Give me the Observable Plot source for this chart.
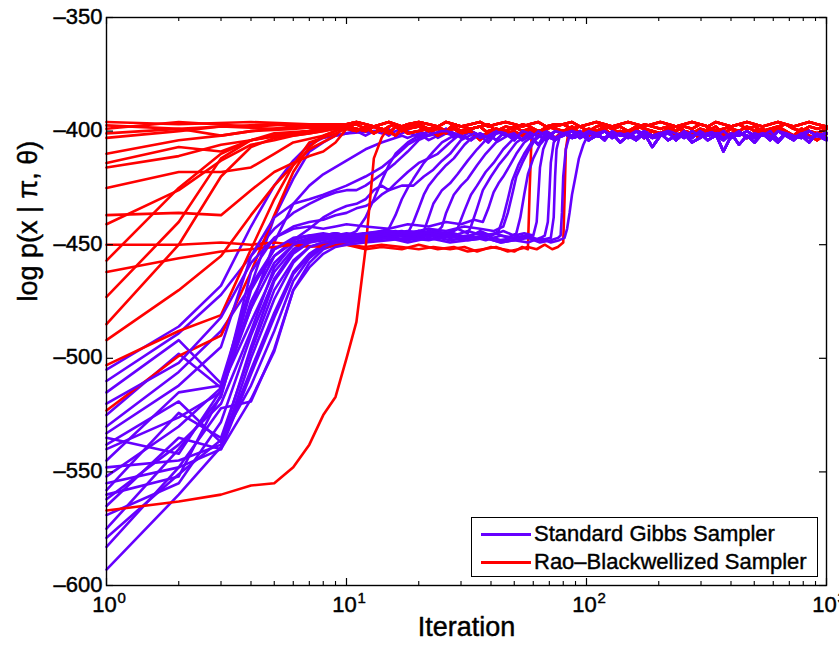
<!DOCTYPE html>
<html><head><meta charset="utf-8">
<script src="https://cdn.jsdelivr.net/npm/d3@7"></script>
<script src="https://cdn.jsdelivr.net/npm/@observablehq/plot@0.6"></script>
<style>
body{margin:0;background:#fff;}
#wrap{position:relative;width:839px;height:650px;font-family:"Liberation Sans",Arial,Helvetica,sans-serif;}
#legend{position:absolute;left:471px;top:517px;width:345px;height:58px;border:1.4px solid #000;background:#fff;}
.row{position:absolute;left:0;height:26px;width:100%;}
.sw{position:absolute;left:9px;width:50px;height:2.6px;top:12px;}
.lt{position:absolute;left:62px;top:0;font-size:22px;line-height:26px;color:#000;white-space:nowrap;-webkit-text-stroke:0.4px #000;}
</style></head>
<body>
<div id="wrap">
<div id="chart"></div>
<div id="legend">
  <div class="row" style="top:3px"><div class="sw" style="background:#6600ff"></div><div class="lt">Standard Gibbs Sampler</div></div>
  <div class="row" style="top:31px"><div class="sw" style="background:#ff0000"></div><div class="lt">Rao–Blackwellized Sampler</div></div>
</div>
</div>
<script>
const seriesNames = ["Standard Gibbs Sampler", "Rao–Blackwellized Sampler"];
const seriesColors = ["#6600ff", "#ff0000"];
const xMajor = [1, 10, 100, 1000];
const xMinor = [2,3,4,5,6,7,8,9,20,30,40,50,60,70,80,90,200,300,400,500,600,700,800,900];
const yTicks = [-600, -550, -500, -450, -400, -350];
const xTickExp = ["0", "1", "2", "3"];

// Standard Gibbs runs: [iteration, log p]
const gibbsRuns = [
 [[1,-505],[2,-486],[3,-468],[4,-442],[5,-424],[6,-413],[7,-406],[8,-403],[10,-401],[13,-400]],
 [[1,-525],[2,-498],[3,-513],[4,-468],[5,-438],[6,-421],[7,-409],[8,-405],[9,-402]],
 [[1,-545],[2,-515],[3,-512],[4,-478],[5,-449],[6,-432],[7,-424],[8,-419],[10,-413],[12,-408],[14,-405],[17,-402]],
 [[1,-510],[2,-489],[3,-472],[4,-455],[5,-443],[6,-436],[7,-432],[8,-429],[9,-427],[10,-426],[11,-426],[12,-424],[14,-419],[16,-414],[18,-409],[20,-404],[23,-401]],
 [[1,-530],[2,-506],[3,-488],[4,-468],[5,-455],[6,-448],[7,-443],[8,-438],[9,-435],[10,-433],[11,-432],[12,-430],[13,-426],[14,-424],[15,-426],[16,-423],[18,-418],[20,-414],[22,-412],[24,-410],[27,-405],[30,-401]],
 [[1,-515],[2,-492],[3,-511],[4,-468],[5,-452],[6,-448],[7,-446],[8,-446],[9,-445],[10,-446],[11,-444],[12,-438],[13,-430],[14,-422],[15,-415],[16,-410],[18,-405],[20,-402]],
 [[1,-535],[2,-542],[3,-514],[4,-478],[5,-458],[6,-450],[7,-448],[8,-447],[9,-447],[10,-446],[11,-446],[12,-445],[13,-445],[14,-444],[15,-443],[16,-437],[17,-430],[18,-425],[19,-421],[21,-414],[23,-409],[25,-405],[28,-402]],
 [[1,-538],[2,-519],[3,-537],[4,-495],[5,-466],[6,-454],[7,-449],[8,-448],[9,-447],[10,-447],[11,-446],[12,-447],[14,-446],[16,-445],[18,-445],[19,-440],[20,-434],[21,-428],[22,-424],[24,-419],[26,-415],[28,-412],[31,-406],[34,-402]],
 [[1,-548],[2,-545],[3,-538],[4,-505],[5,-480],[6,-462],[7,-454],[8,-450],[9,-448],[10,-448],[12,-447],[14,-446],[16,-447],[18,-445],[20,-446],[21,-444],[22,-438],[23,-432],[25,-426],[27,-423],[29,-419],[32,-413],[35,-408],[38,-404],[42,-401]],
 [[1,-552],[2,-530],[3,-513],[4,-484],[5,-462],[6,-452],[7,-448],[8,-447],[9,-446],[10,-447],[12,-446],[14,-445],[16,-444],[18,-446],[20,-444],[22,-445],[24,-444],[25,-442],[26,-436],[28,-428],[30,-424],[32,-421],[35,-415],[38,-410],[42,-405],[47,-402]],
 [[1,-555],[2,-548],[3,-540],[4,-518],[5,-497],[6,-470],[7,-458],[8,-452],[9,-450],[10,-449],[12,-448],[14,-447],[16,-446],[19,-447],[22,-445],[25,-446],[28,-444],[29,-443],[31,-435],[33,-428],[35,-424],[38,-418],[41,-414],[45,-408],[49,-404],[55,-401]],
 [[1,-558],[2,-524],[3,-535],[4,-497],[5,-470],[6,-457],[7,-451],[8,-449],[9,-448],[10,-447],[12,-446],[14,-445],[17,-444],[20,-446],[23,-444],[26,-445],[29,-443],[32,-445],[33,-442],[35,-434],[37,-426],[40,-420],[43,-415],[47,-410],[51,-405],[56,-402]],
 [[1,-560],[2,-552],[3,-516],[4,-475],[5,-455],[6,-449],[7,-447],[8,-446],[9,-445],[10,-446],[12,-445],[14,-444],[17,-446],[20,-444],[24,-446],[28,-445],[32,-447],[36,-444],[40,-446],[43,-444],[45,-438],[47,-430],[49,-422],[52,-415],[55,-410],[59,-405],[64,-401]],
 [[1,-565],[2,-535],[3,-540],[4,-507],[5,-482],[6,-463],[7,-455],[8,-451],[9,-449],[10,-448],[12,-447],[14,-446],[17,-445],[20,-447],[24,-445],[28,-446],[32,-444],[37,-446],[42,-445],[47,-447],[51,-445],[53,-438],[55,-428],[57,-419],[60,-412],[64,-406],[69,-402]],
 [[1,-569],[2,-555],[3,-528],[4,-490],[5,-465],[6,-453],[7,-449],[8,-447],[9,-446],[10,-447],[12,-446],[15,-445],[18,-446],[22,-444],[26,-445],[30,-447],[35,-445],[40,-446],[45,-444],[50,-446],[55,-445],[60,-446],[62,-440],[63,-428],[64,-416],[66,-408],[69,-403]],
 [[1,-575],[2,-540],[3,-517],[4,-470],[5,-452],[6,-447],[7,-446],[8,-445],[9,-446],[10,-445],[12,-446],[15,-445],[18,-444],[22,-445],[27,-447],[32,-446],[38,-448],[44,-446],[50,-447],[56,-446],[62,-448],[67,-446],[69,-440],[70,-428],[71,-414],[73,-405],[77,-401]],
 [[1,-579],[2,-551],[3,-536],[4,-512],[5,-488],[6,-466],[7,-456],[8,-451],[9,-449],[10,-448],[12,-448],[15,-447],[18,-448],[22,-446],[27,-448],[32,-447],[38,-446],[44,-448],[50,-447],[57,-446],[64,-448],[71,-447],[73,-438],[74,-420],[75,-408],[77,-403]],
 [[1,-583],[2,-548],[3,-522],[4,-519],[5,-496],[6,-470],[7,-460],[8,-454],[9,-451],[10,-450],[12,-449],[15,-448],[18,-447],[22,-448],[27,-446],[32,-448],[38,-447],[44,-449],[50,-448],[57,-447],[64,-449],[71,-448],[76,-447],[78,-446],[79,-436],[80,-420],[82,-408],[85,-402]],
 [[1,-593],[2,-560],[3,-539],[4,-500],[5,-474],[6,-458],[7,-451],[8,-449],[9,-448],[10,-449],[12,-448],[15,-447],[18,-449],[22,-447],[27,-449],[32,-448],[38,-447],[44,-449],[50,-448],[57,-449],[64,-447],[71,-449],[77,-448],[81,-447],[83,-443],[85,-436],[87,-428],[90,-420],[93,-412],[97,-406],[101,-402]],
 [[1,-520],[2,-502],[3,-482],[4,-458],[5,-447],[6,-442],[7,-440],[8,-439],[9,-437],[10,-436],[11,-434],[12,-433],[13,-431],[14,-428],[15,-426],[17,-424],[19,-424],[21,-420],[23,-417],[25,-413],[27,-410],[30,-404],[34,-401]],
 [[1,-540],[2,-526],[3,-515],[4,-462],[5,-447],[6,-443],[7,-442],[8,-443],[9,-442],[10,-441],[12,-442],[15,-443],[18,-441],[22,-442],[26,-440],[30,-441],[34,-439],[37,-440],[39,-434],[41,-427],[43,-423],[45,-420],[48,-415],[51,-410],[55,-405],[60,-402]],
 [[1,-562],[2,-538],[3,-520],[4,-488],[5,-460],[6,-450],[7,-447],[8,-446],[9,-445],[10,-446],[12,-445],[15,-444],[18,-445],[22,-443],[26,-444],[31,-442],[36,-443],[41,-444],[45,-442],[47,-436],[49,-428],[51,-420],[54,-414],[57,-409],[61,-404],[66,-401]],
 [[1,-533],[2,-512],[3,-495],[4,-455],[5,-438],[6,-432],[7,-430],[8,-428],[10,-424],[12,-420],[14,-416],[16,-411],[18,-406],[21,-402],[25,-400]]
];

// Rao-Blackwellized runs: [iteration, log p]
const raoRuns = [
 [[1,-396],[2,-397],[4,-396],[7,-397],[9,-397]],
 [[1,-397.5],[2,-399],[3,-398],[5,-397],[8,-398]],
 [[1,-399],[2,-396],[4,-398],[6,-397],[9,-398]],
 [[1,-401],[2,-399],[3,-402],[4,-400],[6,-398],[8,-399]],
 [[1,-403],[2,-400],[3,-398],[5,-399],[7,-398]],
 [[1,-410],[2,-404],[3,-402],[4,-400],[6,-399],[8,-398]],
 [[1,-414],[2,-407],[3,-409],[4,-404],[5,-402],[7,-400],[9,-399]],
 [[1,-416],[2,-411],[3,-406],[4,-404],[6,-401],[8,-399]],
 [[1,-425],[2,-418],[3,-418],[4,-416],[5,-410],[6,-405],[8,-402],[9,-400]],
 [[1,-437],[2,-436],[3,-437],[4,-426],[5,-418],[6,-414],[7,-411],[8,-409],[9,-405]],
 [[1,-441],[2,-426],[3,-413],[4,-406],[5,-404],[6,-402],[8,-400]],
 [[1,-450],[2,-450],[3,-449],[4,-450],[5,-449],[6,-450],[7,-451],[8,-450],[10,-450],[12,-451],[14,-450],[17,-451],[20,-452],[23,-451],[27,-452],[31,-451],[35,-453],[40,-451],[45,-452],[50,-453],[54,-451],[57,-452],[58,-425],[59,-403],[61,-400]],
 [[1,-457],[2,-425],[3,-410],[4,-404],[5,-402],[7,-400]],
 [[1,-462],[2,-456],[3,-453],[4,-452],[5,-451],[6,-450],[8,-451],[10,-450],[12,-452],[14,-451],[17,-452],[20,-450],[24,-452],[28,-451],[32,-453],[37,-452],[42,-451],[47,-453],[52,-452],[57,-451],[62,-452],[67,-450],[72,-452],[76,-451],[80,-449],[81,-430],[82,-408],[84,-401]],
 [[1,-473],[2,-440],[3,-412],[4,-404],[5,-401],[7,-400]],
 [[1,-485],[2,-450],[3,-420],[4,-407],[5,-403],[7,-401]],
 [[1,-492],[2,-470],[3,-455],[4,-437],[5,-424],[6,-415],[7,-408],[9,-402]],
 [[1,-503],[2,-488],[3,-481],[4,-452],[5,-430],[6,-415],[7,-405],[9,-401]],
 [[1,-523],[2,-499],[3,-490],[4,-462],[5,-437],[6,-418],[7,-407],[8,-402]],
 [[1,-567],[2,-563],[3,-560],[4,-556],[5,-555],[6,-548],[7,-538],[8,-525],[9,-517],[10,-500],[11,-484],[12,-452],[13,-412],[14,-403]]
];

// Converged (noisy) stretch shared iteration grid
const tailIters = [10,11,12,13,14,15,16,17,18,20,22,24,26,28,30,33,36,39,42,46,50,54,58,63,68,74,80,87,94,102,
 110,119,128,138,149,161,174,188,203,219,236,255,275,297,320,345,372,401,432,466,502,541,583,628,677,729,786,847,913,1000];

const gibbsTails = [
 [-400,-401,-399,-401,-400,-402,-400,-399,-401,-400,
  -402,-401,-399,-401,-403,-400,-402,-401,-404,-400,
  -402,-401,-403,-400,-402,-404,-401,-400,-403,-401,
  -402,-400,-403,-401,-402,-404,-401,-407,-402,-401,
  -403,-400,-402,-401,-404,-402,-400,-403,-401,-402,
  -405,-401,-403,-400,-402,-404,-401,-403,-402,-404],
 [-401,-400,-402,-400,-401,-399,-402,-401,-400,-403,
  -400,-402,-399,-403,-401,-400,-402,-405,-401,-400,
  -403,-401,-400,-402,-404,-400,-401,-403,-402,-400,
  -401,-404,-400,-402,-401,-403,-400,-402,-401,-400,
  -404,-401,-403,-400,-402,-401,-409,-402,-400,-403,
  -401,-402,-400,-404,-401,-402,-403,-400,-402,-401],
 [-399,-400,-401,-400,-402,-401,-400,-402,-403,-401,
  -404,-402,-400,-401,-402,-404,-401,-403,-400,-402,
  -401,-404,-402,-406,-401,-403,-402,-400,-401,-404,
  -402,-403,-401,-405,-402,-400,-403,-402,-401,-404,
  -402,-401,-405,-403,-401,-402,-404,-401,-406,-402,
  -403,-401,-402,-405,-401,-403,-402,-405,-401,-403],
 [-401,-399,-400,-402,-401,-400,-401,-403,-400,-401,
  -400,-403,-401,-402,-400,-401,-403,-402,-400,-401,
  -404,-400,-401,-402,-400,-403,-401,-402,-400,-404,
  -401,-400,-402,-401,-403,-400,-401,-403,-402,-400,
  -401,-403,-400,-402,-401,-400,-403,-401,-402,-400,
  -402,-401,-404,-400,-401,-403,-401,-400,-402,-401]
];

const raoTails = [
 [-397,-396,-397,-398,-397,-396,-397,-398,-397,-396,
  -397,-398,-396,-397,-398,-397,-396,-398,-397,-396,
  -397,-398,-397,-396,-398,-397,-397,-396,-398,-397,
  -396,-397,-398,-397,-396,-397,-398,-397,-396,-397,
  -398,-397,-396,-397,-398,-396,-397,-398,-397,-396,
  -397,-398,-397,-396,-397,-398,-397,-396,-397,-398],
 [-399,-400,-398,-401,-399,-400,-402,-399,-401,-400,
  -399,-402,-400,-399,-401,-400,-404,-400,-399,-401,
  -400,-402,-399,-401,-400,-403,-400,-399,-401,-402,
  -400,-399,-402,-400,-401,-399,-403,-400,-401,-399,
  -402,-400,-401,-403,-399,-400,-402,-401,-400,-403,
  -401,-400,-402,-399,-401,-403,-400,-402,-404,-401],
 [-398,-399,-400,-398,-399,-401,-398,-400,-399,-398,
  -400,-399,-401,-398,-400,-399,-398,-401,-399,-400,
  -398,-400,-399,-401,-398,-399,-400,-398,-401,-399,
  -400,-398,-399,-401,-400,-398,-399,-400,-402,-399,
  -398,-400,-401,-399,-400,-398,-401,-399,-400,-398,
  -400,-399,-401,-398,-400,-402,-399,-400,-401,-399],
 [-398,-397,-399,-398,-400,-398,-397,-399,-398,-397,
  -399,-398,-400,-397,-398,-399,-398,-397,-400,-398,
  -399,-397,-398,-400,-399,-398,-397,-399,-398,-400,
  -398,-397,-399,-398,-400,-399,-397,-398,-399,-398,
  -400,-398,-399,-397,-398,-400,-399,-398,-397,-399,
  -398,-400,-399,-398,-397,-399,-400,-398,-399,-398]
];

function build(runs, tails, sampler, prefix) {
  return runs.map((run, i) => {
    const tail = tails[i % tails.length];
    const last = run[run.length - 1][0];
    const pts = run.map(([it, v]) => ({it, v}));
    tailIters.forEach((it, j) => { if (it > last) pts.push({it, v: tail[j]}); });
    return pts.map(p => ({...p, run: prefix + i, sampler}));
  });
}
const gRows = build(gibbsRuns, gibbsTails, seriesNames[0], "g");
const rRows = build(raoRuns, raoTails, seriesNames[1], "r");
const lineData = [];
for (let i = 0; i < Math.max(gRows.length, rRows.length); i++) {
  if (gRows[i]) lineData.push(...gRows[i]);
  if (rRows[i]) lineData.push(...rRows[i]);
}

const W = 839, H = 650, mL = 106, mR = 13, mT = 17, mB = 65;
const fw = W - mL - mR, fh = H - mT - mB;
const txt = {fill: "#000", stroke: "#000", strokeWidth: 0.45};

const chart = Plot.plot({
  width: W, height: H,
  marginLeft: mL, marginRight: mR, marginTop: mT, marginBottom: mB,
  style: {fontFamily: '"Liberation Sans", Arial, Helvetica, sans-serif', fontSize: "22px", color: "#000", background: "#fff", overflow: "visible"},
  x: {type: "log", domain: [1, 1000], axis: null},
  y: {domain: [-600, -350], axis: null},
  color: {domain: seriesNames, range: seriesColors},
  marks: [
    Plot.line(lineData, {x: "it", y: "v", z: "run", stroke: "sampler", strokeWidth: 2.6, strokeLinejoin: "round", strokeLinecap: "round"}),
    Plot.tickX(xMajor, {x: d => d, insetTop: fh - 7, stroke: "#000", strokeWidth: 1.2}),
    Plot.tickX(xMajor, {x: d => d, insetBottom: fh - 7, stroke: "#000", strokeWidth: 1.2}),
    Plot.tickX(xMinor, {x: d => d, insetTop: fh - 4, stroke: "#000", strokeWidth: 1.1}),
    Plot.tickX(xMinor, {x: d => d, insetBottom: fh - 4, stroke: "#000", strokeWidth: 1.1}),
    Plot.tickY(yTicks, {y: d => d, insetRight: fw - 7, stroke: "#000", strokeWidth: 1.2}),
    Plot.tickY(yTicks, {y: d => d, insetLeft: fw - 7, stroke: "#000", strokeWidth: 1.2}),
    Plot.frame({stroke: "#000", strokeWidth: 1.4}),
    Plot.text(yTicks, {x: 1, y: d => d, text: d => "–" + Math.abs(d), textAnchor: "end", dx: -4, dy: -1, fontSize: 22, ...txt}),
    Plot.text(xMajor, {x: d => d, frameAnchor: "bottom", text: () => "10", dx: -2, dy: 26, fontSize: 22, ...txt}),
    Plot.text(xMajor, {x: d => d, frameAnchor: "bottom", text: (d, i) => xTickExp[i], textAnchor: "start", dx: 11, dy: 17, fontSize: 15, ...txt}),
    Plot.text(["Iteration"], {frameAnchor: "bottom", text: d => d, dy: 50, fontSize: 27, ...txt}),
    Plot.text(["log p(x | π, θ)"], {frameAnchor: "left", text: d => d, rotate: -90, dx: -78, fontSize: 27, ...txt})
  ]
});
document.getElementById("chart").appendChild(chart);
</script>
</body></html>
